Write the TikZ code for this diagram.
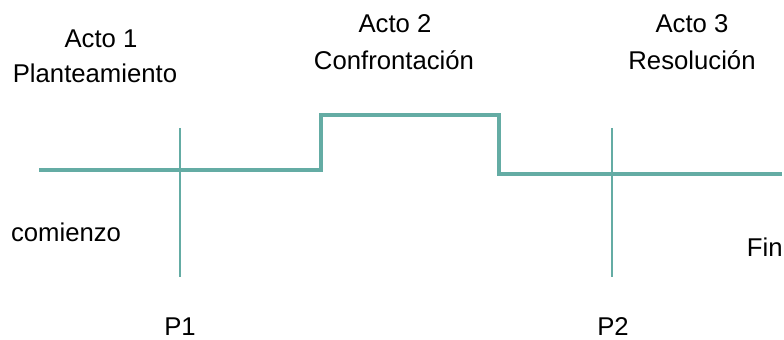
\documentclass[tikz,border=0pt]{standalone}
\usepackage{fontspec}
\setmainfont{Liberation Sans}
\usepackage{tikz}
\definecolor{verdeazul}{RGB}{100,172,164}
\tikzset{mlinea/.style={draw=verdeazul,line width=2.4pt}}
\tikzset{mpunto/.style={draw=verdeazul,line width=1pt}}
\tikzset{mtexto/.style={inner sep=0pt,anchor=base,font=\fontsize{12.85}{15}\selectfont}}

\begin{document}
\begin{tikzpicture}[x=0.5pt,y=-0.5pt]
\useasboundingbox (0,0) rectangle (784,340);

% linea de la trama
\coordinate (inicio) at (39,170);
\coordinate (s1) at (321,170);
\coordinate (s2) at (321,115);
\coordinate (s3) at (499,115);
\coordinate (s4) at (499,174);
\coordinate (final) at (782,174);
\draw[mlinea] (inicio) -- (s1) -- (s2) -- (s3) -- (s4) -- (final);

% puntos de giro
\coordinate (p1a) at (180,128);
\coordinate (p1b) at (180,277);
\coordinate (p2a) at (612,128);
\coordinate (p2b) at (612,277);
\draw[mpunto] (p1a) -- (p1b);
\draw[mpunto] (p2a) -- (p2b);

\node[mtexto] (acto1) at (101,48) {Acto 1};
\node[mtexto] (plant) at (95,83) {Planteamiento};
\node[mtexto] (acto2) at (395,33) {Acto 2};
\node[mtexto] (confr) at (394,70) {Confrontación};
\node[mtexto] (acto3) at (692,33) {Acto 3};
\node[mtexto] (resol) at (692,70) {Resolución};

\node[mtexto] (comienzo) at (66,242) {comienzo};
\node[mtexto,anchor=base east] (fin) at (783,257) {Fin};
\node[mtexto] (P1) at (180,336) {P1};
\node[mtexto] (P2) at (613,336) {P2};

\end{tikzpicture}
\end{document}
